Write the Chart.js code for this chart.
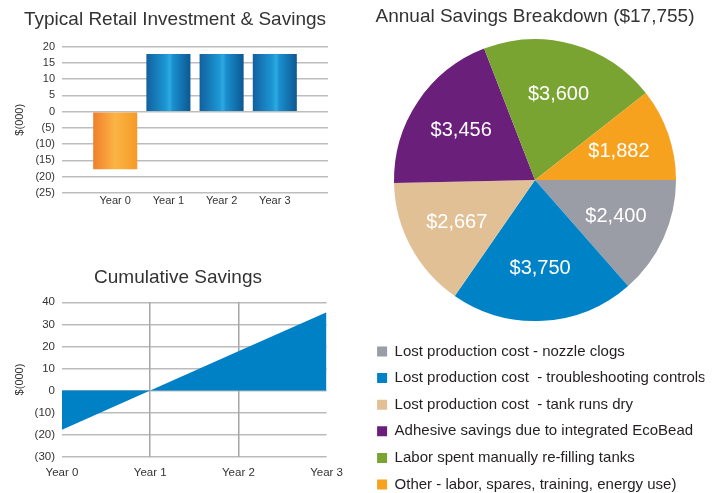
<!DOCTYPE html>
<html>
<head>
<meta charset="utf-8">
<script src="https://cdn.jsdelivr.net/npm/chart.js@4.4.0/dist/chart.umd.min.js"></script>
<style>
  html, body { margin: 0; padding: 0; background: #fff; overflow: hidden; }
  body { width: 714px; height: 493px; position: relative; }
  .box { position: absolute; }
  #barBox { left: 0; top: 0; width: 340px; height: 215px; }
  #cumBox { left: 0; top: 250px; width: 352px; height: 243px; }
  #pieBox { left: 360px; top: 0; width: 354px; height: 502px; }
</style>
</head>
<body>
<div class="box" id="barBox"><canvas id="barChart"></canvas></div>
<div class="box" id="cumBox"><canvas id="cumChart"></canvas></div>
<div class="box" id="pieBox"><canvas id="pieChart"></canvas></div>
<script>
const years = ['Year 0', 'Year 1', 'Year 2', 'Year 3'];
const investment = [-17.755, 17.755, 17.755, 17.755];
const cumulative = [-17.755, 0, 17.755, 35.51];

const savingLabels = [
  'Lost production cost - nozzle clogs',
  'Lost production cost  - troubleshooting controls',
  'Lost production cost  - tank runs dry',
  'Adhesive savings due to integrated EcoBead',
  'Labor spent manually re-filling tanks',
  'Other - labor, spares, training, energy use)'
];
const savingValues = [2400, 3750, 2667, 3456, 3600, 1882];
const savingColors = ['#9a9ca6', '#0083c6', '#e2c096', '#6a1f7b', '#7aa431', '#f6a21f'];

const SANS = "'Liberation Sans', Arial, sans-serif";
const TEXT = '#333333';
const GRID = '#bdbdbd';

function money(v) {
  return v < 0 ? '(' + Math.abs(v) + ')' : String(v);
}

function barFill(ctx) {
  const chart = ctx.chart;
  const { chartArea, scales } = chart;
  const neg = ctx.raw && ctx.raw.y < 0;
  if (!chartArea) return neg ? '#f7a030' : '#1377b8';
  const x = scales.x.getPixelForValue(ctx.dataIndex);
  const half = (scales.x.getPixelForValue(1) - scales.x.getPixelForValue(0)) * 0.828 / 2;
  const g = chart.ctx.createLinearGradient(x - half, 0, x + half, 0);
  if (neg) {
    g.addColorStop(0, '#ef7f2e');
    g.addColorStop(0.5, '#fcb445');
    g.addColorStop(1, '#f59a26');
  } else {
    g.addColorStop(0, '#13609f');
    g.addColorStop(0.45, '#1c98d5');
    g.addColorStop(0.53, '#2eaae1');
    g.addColorStop(0.6, '#1a8fcf');
    g.addColorStop(1, '#0c5892');
  }
  return g;
}

// left padding 22 keeps the titles centred like the original; the y axis fills 22..62
new Chart(document.getElementById('barChart'), {
  type: 'bar',
  data: {
    datasets: [{
      data: investment.map((v, i) => ({ x: i, y: v })),
      backgroundColor: barFill,
      borderWidth: 0,
      barPercentage: 0.92,
      categoryPercentage: 0.9
    }]
  },
  options: {
    responsive: true,
    maintainAspectRatio: false,
    animation: false,
    layout: { padding: { left: 22, right: 12, top: 0, bottom: 0 } },
    plugins: {
      legend: { display: false },
      tooltip: { enabled: false },
      title: {
        display: true,
        text: 'Typical Retail Investment & Savings',
        color: TEXT,
        font: { family: SANS, size: 19, weight: 'normal' },
        padding: { top: 8, bottom: 16 }
      }
    },
    scales: {
      x: {
        type: 'linear',
        offset: false,
        min: -1,
        max: 4,
        afterFit: s => { s.height = 22.3; },
        grid: { display: false, drawTicks: false },
        border: { display: false },
        ticks: {
          stepSize: 1,
          padding: 2,
          color: TEXT,
          font: { family: SANS, size: 11 },
          callback: v => years[v] || ''
        }
      },
      y: {
        min: -25,
        max: 20,
        afterFit: s => { s.width = 40; },
        grid: { color: GRID, lineWidth: 1.5, drawTicks: false },
        border: { display: false },
        ticks: {
          stepSize: 5,
          autoSkip: false,
          padding: 7,
          color: TEXT,
          font: { family: SANS, size: 11 },
          callback: v => money(v)
        },
        title: {
          display: true,
          text: '$(000)',
          color: TEXT,
          font: { family: SANS, size: 11 },
          padding: { top: -8.5, bottom: 0 }
        }
      }
    }
  }
});

new Chart(document.getElementById('cumChart'), {
  type: 'line',
  data: {
    labels: years,
    datasets: [{
      data: cumulative,
      fill: 'origin',
      backgroundColor: '#0081c6',
      borderColor: '#0081c6',
      borderWidth: 0,
      pointRadius: 0,
      tension: 0
    }]
  },
  options: {
    responsive: true,
    maintainAspectRatio: false,
    animation: false,
    layout: { padding: { left: 22, right: 18, top: 0, bottom: 0 } },
    plugins: {
      legend: { display: false },
      tooltip: { enabled: false },
      title: {
        display: true,
        text: 'Cumulative Savings',
        color: TEXT,
        font: { family: SANS, size: 19, weight: 'normal' },
        padding: { top: 16.6, bottom: 12.9 }
      }
    },
    scales: {
      x: {
        offset: false,
        z: 1,
        afterFit: s => { s.height = 36.3; },
        grid: {
          drawTicks: false,
          lineWidth: 1.5,
          color: c => (c.index === 1 || c.index === 2) ? 'rgba(150,150,150,0.85)' : 'rgba(0,0,0,0)'
        },
        border: { display: false },
        ticks: {
          padding: 9,
          color: TEXT,
          font: { family: SANS, size: 11.5 }
        }
      },
      y: {
        min: -30,
        max: 40,
        z: 1,
        afterFit: s => { s.width = 40; },
        grid: { color: 'rgba(170,170,170,0.8)', lineWidth: 1.5, drawTicks: false },
        border: { display: false },
        ticks: {
          stepSize: 10,
          autoSkip: false,
          padding: 7,
          color: TEXT,
          font: { family: SANS, size: 11.5 },
          callback: v => money(v)
        },
        title: {
          display: true,
          text: '$(000)',
          color: TEXT,
          font: { family: SANS, size: 11 },
          padding: { top: -8.5, bottom: 0 }
        }
      }
    }
  }
});

const sliceLabels = {
  id: 'sliceLabels',
  afterDatasetsDraw(chart) {
    const ctx = chart.ctx;
    const meta = chart.getDatasetMeta(0);
    ctx.save();
    ctx.fillStyle = '#ffffff';
    ctx.font = '20px ' + SANS;
    ctx.textAlign = 'center';
    ctx.textBaseline = 'middle';
    meta.data.forEach((arc, i) => {
      const p = arc.getProps(['x', 'y', 'startAngle', 'endAngle', 'outerRadius'], true);
      const mid = (p.startAngle + p.endAngle) / 2;
      const r = p.outerRadius * 0.63;
      const v = chart.data.datasets[0].data[i];
      ctx.fillText('$' + v.toLocaleString('en-US'), p.x + Math.cos(mid) * r, p.y + Math.sin(mid) * r);
    });
    ctx.restore();
  }
};

new Chart(document.getElementById('pieChart'), {
  type: 'pie',
  data: {
    labels: savingLabels,
    datasets: [{
      data: savingValues,
      backgroundColor: savingColors,
      borderWidth: 0,
      radius: 141
    }]
  },
  options: {
    responsive: true,
    maintainAspectRatio: false,
    animation: false,
    rotation: 90,
    layout: { padding: { left: 5.5, right: 9.5, top: 0, bottom: 0 } },
    plugins: {
      tooltip: { enabled: false },
      title: {
        display: true,
        text: 'Annual Savings Breakdown ($17,755)',
        color: TEXT,
        font: { family: SANS, size: 19, weight: 'normal' },
        padding: { top: 5, bottom: 0 }
      },
      legend: {
        position: 'bottom',
        align: 'start',
        labels: {
          boxWidth: 10,
          boxHeight: 10,
          padding: 11.6,
          color: '#231f20',
          font: { family: SANS, size: 15 }
        }
      }
    }
  },
  plugins: [sliceLabels]
});
</script>
</body>
</html>
